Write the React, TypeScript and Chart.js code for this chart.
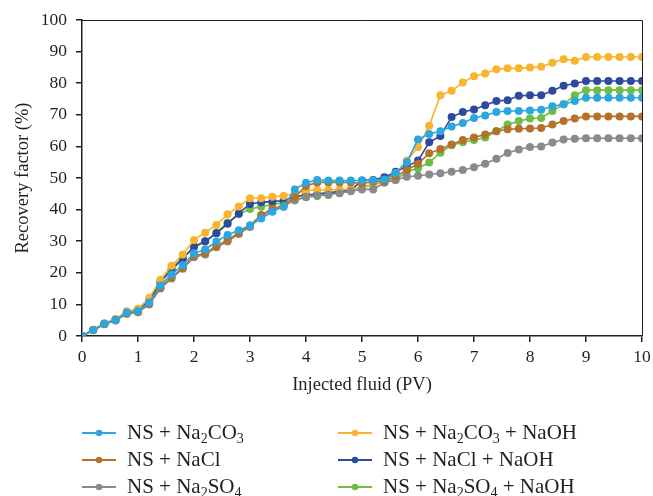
import React, { useEffect, useRef } from "react";
import { Chart, registerables } from "chart.js";

Chart.register(...registerables);

const pv = [
  0, 0.2, 0.4, 0.6, 0.8, 1, 1.2, 1.4, 1.6, 1.8,
  2, 2.2, 2.4, 2.6, 2.8, 3, 3.2, 3.4, 3.6, 3.8,
  4, 4.2, 4.4, 4.6, 4.8, 5, 5.2, 5.4, 5.6, 5.8,
  6, 6.2, 6.4, 6.6, 6.8, 7, 7.2, 7.4, 7.6, 7.8,
  8, 8.2, 8.4, 8.6, 8.8, 9, 9.2, 9.4, 9.6, 9.8, 10,
];

const nsNa2co3 = [
  0, 1.9, 3.9, 5.1, 7.4, 7.9, 10.6, 16.0, 19.5, 22.4,
  26.2, 27.4, 29.9, 32.0, 33.5, 35.0, 37.2, 39.3, 41.0, 46.4,
  48.5, 49.4, 49.2, 49.2, 49.2, 49.2, 49.2, 49.5, 51.5, 55.0,
  62.2, 63.9, 64.8, 66.3, 67.4, 69.0, 69.8, 70.9, 71.2, 71.2,
  71.4, 71.6, 72.7, 73.3, 74.4, 75.4, 75.4, 75.4, 75.4, 75.4, 75.4,
];

const nsNacl = [
  0, 1.9, 3.8, 5.0, 7.2, 7.6, 10.2, 15.3, 18.6, 21.6,
  25.3, 26.2, 28.4, 30.4, 32.6, 35.0, 38.3, 40.3, 41.3, 44.0,
  47.5, 48.6, 48.6, 48.6, 48.6, 48.3, 48.8, 49.0, 50.5, 52.5,
  54.5, 57.8, 59.2, 60.6, 62.0, 62.8, 63.8, 64.8, 65.4, 65.6,
  65.7, 65.8, 66.9, 68.0, 68.8, 69.5, 69.5, 69.5, 69.5, 69.5, 69.5,
];

const nsNa2so4 = [
  0, 1.8, 3.7, 4.9, 7.0, 7.5, 10.0, 15.0, 18.2, 21.3,
  24.9, 25.8, 28.1, 29.9, 32.3, 34.5, 37.8, 39.9, 40.9, 43.2,
  44.0, 44.5, 44.8, 45.2, 45.8, 46.4, 46.4, 48.5, 49.4, 50.4,
  50.7, 51.1, 51.5, 52.0, 52.5, 53.4, 54.5, 56.1, 57.9, 59.0,
  59.8, 60.0, 61.2, 62.2, 62.4, 62.6, 62.6, 62.6, 62.6, 62.6, 62.6,
];

const nsNa2co3Naoh = [
  0, 2.0, 4.0, 5.4, 7.8, 8.6, 12.0, 17.8, 22.2, 25.8,
  30.4, 32.7, 35.1, 38.5, 41.0, 43.6, 43.6, 44.1, 44.3, 45.1,
  46.0, 46.2, 46.2, 46.4, 46.4, 47.3, 48.0, 49.0, 51.5, 55.5,
  59.7, 66.5, 76.2, 77.6, 80.2, 82.2, 83.1, 84.4, 84.7, 84.7,
  85.0, 85.2, 86.5, 87.6, 87.1, 88.3, 88.3, 88.3, 88.3, 88.3, 88.3,
];

const nsNaclNaoh = [
  0, 1.9, 3.9, 5.2, 7.5, 8.2, 11.0, 17.0, 21.0, 24.5,
  28.3, 30.0, 32.5, 35.5, 38.8, 41.8, 42.3, 42.6, 42.8, 44.1,
  44.6, 44.9, 45.4, 45.7, 46.2, 49.2, 49.4, 50.2, 52.0, 53.6,
  55.5, 61.3, 63.3, 69.3, 70.9, 71.7, 73.0, 74.4, 74.6, 76.0,
  76.2, 76.2, 77.6, 79.2, 79.9, 80.7, 80.7, 80.7, 80.7, 80.7, 80.7,
];

const nsNa2so4Naoh = [
  0, 1.9, 3.9, 5.3, 7.6, 8.4, 11.4, 17.4, 21.4, 24.8,
  28.0, 29.9, 32.7, 35.9, 38.5, 40.2, 40.9, 41.6, 42.2, 42.9,
  43.9, 44.3, 44.6, 45.4, 46.2, 47.0, 47.8, 48.8, 49.4, 52.0,
  53.1, 54.9, 58.0, 60.4, 61.3, 62.0, 62.8, 64.8, 66.9, 68.0,
  68.8, 69.0, 71.2, 73.3, 76.2, 77.8, 77.8, 77.8, 77.8, 77.8, 77.8,
];

const seriesNames = [
  "NS + Na₂CO₃",
  "NS + NaCl",
  "NS + Na₂SO₄",
  "NS + Na₂CO₃ + NaOH",
  "NS + NaCl + NaOH",
  "NS + Na₂SO₄ + NaOH",
];

const seriesColors = ["#2BA6DF", "#B5702A", "#8A8A8C", "#F8B42C", "#2E4A9E", "#6CBE45"];

const seriesValues = [nsNa2co3, nsNacl, nsNa2so4, nsNa2co3Naoh, nsNaclNaoh, nsNa2so4Naoh];

const xTickValues = [0, 1, 2, 3, 4, 5, 6, 7, 8, 9, 10];
const yTickValues = [0, 10, 20, 30, 40, 50, 60, 70, 80, 90, 100];

const xTitle = "Injected fluid (PV)";
const yTitle = "Recovery factor (%)";

const FONT = "'Liberation Serif', 'Times New Roman', serif";
const INK = "#231f20";

const SUBS: Record<string, string> = {
  "₀": "0", "₁": "1", "₂": "2", "₃": "3", "₄": "4",
  "₅": "5", "₆": "6", "₇": "7", "₈": "8", "₉": "9",
};

function drawRichText(ctx: CanvasRenderingContext2D, text: string, x: number, y: number, size: number) {
  let cx = x;
  for (const ch of Array.from(text)) {
    const sub = SUBS[ch];
    if (sub) {
      ctx.font = `${Math.round(size * 0.68)}px ${FONT}`;
      ctx.fillText(sub, cx, y + size * 0.28);
      cx += ctx.measureText(sub).width;
    } else {
      ctx.font = `${size}px ${FONT}`;
      ctx.fillText(ch, cx, y);
      cx += ctx.measureText(ch).width;
    }
  }
}

const legendPlugin = {
  id: "customLegend",
  afterDraw(chart: any) {
    const ctx: CanvasRenderingContext2D = chart.ctx;
    const colX = [82, 338];
    const rowY = [433, 460, 487];
    ctx.save();
    chart.data.datasets.forEach((ds: any, i: number) => {
      const col = Math.floor(i / 3);
      const row = i % 3;
      const x0 = colX[col];
      const y = rowY[row];
      ctx.strokeStyle = ds.borderColor;
      ctx.lineWidth = 2;
      ctx.beginPath();
      ctx.moveTo(x0, y);
      ctx.lineTo(x0 + 34, y);
      ctx.stroke();
      ctx.fillStyle = ds.borderColor;
      ctx.beginPath();
      ctx.arc(x0 + 17, y, 3.2, 0, Math.PI * 2);
      ctx.fill();
      ctx.fillStyle = INK;
      ctx.textBaseline = "middle";
      ctx.textAlign = "left";
      drawRichText(ctx, ds.label, x0 + 45, y, 21);
    });
    ctx.restore();
  },
};

const boxPlugin = {
  id: "frameBox",
  afterDatasetsDraw(chart: any) {
    const { ctx, chartArea } = chart;
    ctx.save();
    ctx.strokeStyle = INK;
    ctx.lineWidth = 1;
    ctx.beginPath();
    ctx.moveTo(chartArea.left, chartArea.top + 0.5);
    ctx.lineTo(chartArea.right + 0.5, chartArea.top + 0.5);
    ctx.lineTo(chartArea.right + 0.5, chartArea.bottom);
    ctx.stroke();
    ctx.restore();
  },
};

export default function App() {
  const ref = useRef<HTMLCanvasElement | null>(null);

  useEffect(() => {
    if (!ref.current) return;
    const datasets = seriesNames.map((name, i) => ({
      label: name,
      data: pv.map((x, j) => ({ x, y: seriesValues[i][j] })),
      borderColor: seriesColors[i],
      backgroundColor: seriesColors[i],
      borderWidth: 1.6,
      pointRadius: 4,
      pointBorderWidth: 0,
      pointBackgroundColor: seriesColors[i],
      tension: 0,
      fill: false,
    }));

    const tickFont = { family: FONT, size: 17.5 };
    const titleFont = { family: FONT, size: 18.5 };

    const chart = new Chart(ref.current, {
      type: "line",
      data: { datasets },
      options: {
        responsive: false,
        animation: false,
        layout: { padding: { left: 0, right: 11, top: 20, bottom: 100 } },
        plugins: {
          legend: { display: false },
          tooltip: { enabled: false },
        },
        scales: {
          x: {
            type: "linear",
            min: 0,
            max: 10,
            afterBuildTicks: (s: any) => {
              s.ticks = xTickValues.map((v) => ({ value: v }));
            },
            ticks: { color: INK, font: tickFont, padding: 5, maxRotation: 0, autoSkip: false },
            grid: { drawOnChartArea: false, drawTicks: true, tickLength: 6, color: INK, lineWidth: 1.5 },
            border: { color: INK, width: 1.5 },
            title: { display: true, text: xTitle, color: INK, font: titleFont, padding: { top: 0, bottom: 0 } },
            afterFit: (s: any) => {
              s.height = 60;
              s.paddingLeft = 0;
              s.paddingRight = 0;
            },
          },
          y: {
            type: "linear",
            min: 0,
            max: 100,
            afterBuildTicks: (s: any) => {
              s.ticks = yTickValues.map((v) => ({ value: v }));
            },
            ticks: { color: INK, font: tickFont, padding: 9, autoSkip: false },
            grid: { drawOnChartArea: false, drawTicks: true, tickLength: 6, color: INK, lineWidth: 1.5 },
            border: { color: INK, width: 1.5 },
            title: { display: true, text: yTitle, color: INK, font: titleFont, padding: { top: 12, bottom: 0 } },
            afterFit: (s: any) => {
              s.width = 82;
              s.paddingTop = 0;
              s.paddingBottom = 0;
            },
          },
        },
      },
      plugins: [boxPlugin, legendPlugin],
    } as any);

    return () => chart.destroy();
  }, []);

  return (
    <canvas
      ref={ref}
      width={653}
      height={496}
      style={{ position: "absolute", left: 0, top: 0, display: "block", background: "#fff" }}
    />
  );
}
